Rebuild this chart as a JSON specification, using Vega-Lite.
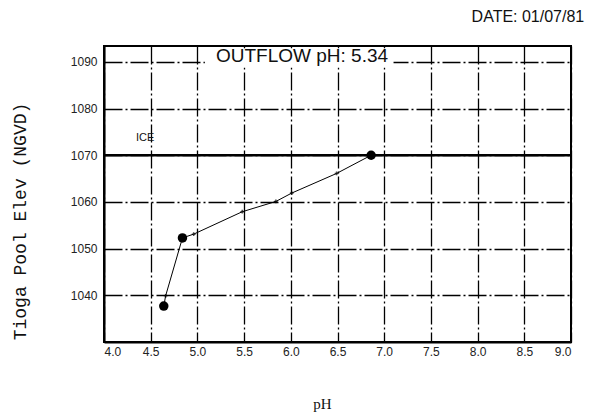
{
  "$schema": "https://vega.github.io/schema/vega-lite/v6.json",
  "width": 467,
  "height": 296,
  "autosize": {"type": "none"},
  "padding": {"left": 104, "top": 46, "right": 18, "bottom": 77},
  "background": "white",
  "title": {
    "text": "DATE: 01/07/81",
    "anchor": "end",
    "dx": 12,
    "offset": 21,
    "font": "Liberation Sans",
    "fontSize": 16,
    "fontWeight": "normal",
    "color": "#111"
  },
  "config": {
    "view": {"stroke": "black", "strokeWidth": 2},
    "axis": {
      "domainColor": "black",
      "domainWidth": 2,
      "gridColor": "black",
      "gridWidth": 1.3,
      "gridDash": [18, 3, 2, 3],
      "gridOpacity": 1,
      "ticks": false,
      "zindex": 0,
      "labelFont": "Liberation Sans",
      "labelFontSize": 12,
      "labelColor": "#222"
    }
  },
  "datasets": {
    "profile": [
      {"pH": 4.64, "elev": 1037.7},
      {"pH": 4.66, "elev": 1039.9},
      {"pH": 4.84, "elev": 1052.3},
      {"pH": 4.96, "elev": 1053.1},
      {"pH": 5.48, "elev": 1057.9},
      {"pH": 5.84, "elev": 1060.1},
      {"pH": 6.01, "elev": 1061.9},
      {"pH": 6.49, "elev": 1066.1},
      {"pH": 6.86, "elev": 1070.0}
    ],
    "samples": [
      {"pH": 4.64, "elev": 1037.7},
      {"pH": 4.84, "elev": 1052.3},
      {"pH": 6.86, "elev": 1070.0}
    ],
    "labels": [
      {"pH": 4.44, "elev": 1073.6, "label": "ICE", "kind": "ice"},
      {"pH": 6.12, "elev": 1091.2, "label": "OUTFLOW pH: 5.34", "kind": "outflow"}
    ],
    "labelbox": [
      {"pH": 5.08, "pH2": 7.1, "elev": 1088.8, "elev2": 1092.9}
    ]
  },
  "encoding": {
    "x": {
      "field": "pH",
      "type": "quantitative",
      "scale": {"domain": [4, 9], "nice": false, "zero": false},
      "axis": {
        "values": [4, 4.5, 5, 5.5, 6, 6.5, 7, 7.5, 8, 8.5, 9],
        "format": ".1f",
        "labelPadding": 4,
        "title": "pH",
        "titleFont": "Liberation Serif",
        "titleFontSize": 15,
        "titleFontWeight": "normal",
        "titleColor": "#111",
        "titleX": 218,
        "titleY": 61,
        "titleBaseline": "middle"
      }
    },
    "y": {
      "field": "elev",
      "type": "quantitative",
      "scale": {"domain": [1030, 1093.4], "nice": false, "zero": false},
      "axis": {
        "values": [1040, 1050, 1060, 1070, 1080, 1090],
        "format": "d",
        "labelPadding": 7,
        "title": "Tioga Pool Elev (NGVD)",
        "titleFont": "Liberation Mono",
        "titleFontSize": 18,
        "titleFontWeight": "normal",
        "titleColor": "#111",
        "titleAngle": -90,
        "titleX": -84,
        "titleY": 175,
        "titleBaseline": "middle",
        "titleAlign": "center"
      }
    }
  },
  "layer": [
    {
      "data": {"values": [{"elev": 1070}]},
      "mark": {"type": "rule", "color": "black", "strokeWidth": 2.5},
      "encoding": {"x": null, "y": {"field": "elev", "type": "quantitative"}}
    },
    {
      "data": {"name": "labelbox"},
      "mark": {"type": "rect", "fill": "white", "fillOpacity": 1, "strokeWidth": 0},
      "encoding": {
        "x2": {"field": "pH2"},
        "y2": {"field": "elev2"}
      }
    },
    {
      "data": {"name": "profile"},
      "mark": {"type": "line", "color": "black", "strokeWidth": 1}
    },
    {
      "data": {"name": "profile"},
      "mark": {"type": "point", "shape": "cross", "filled": true, "color": "black", "size": 14}
    },
    {
      "data": {"name": "samples"},
      "mark": {"type": "circle", "color": "black", "size": 90, "opacity": 1}
    },
    {
      "data": {"name": "labels"},
      "mark": {"type": "text", "font": "Liberation Sans", "color": "#111", "baseline": "middle", "align": "center"},
      "encoding": {
        "text": {"field": "label"},
        "size": {
          "field": "kind",
          "type": "nominal",
          "scale": {"domain": ["ice", "outflow"], "range": [11, 19]},
          "legend": null
        }
      }
    }
  ]
}
